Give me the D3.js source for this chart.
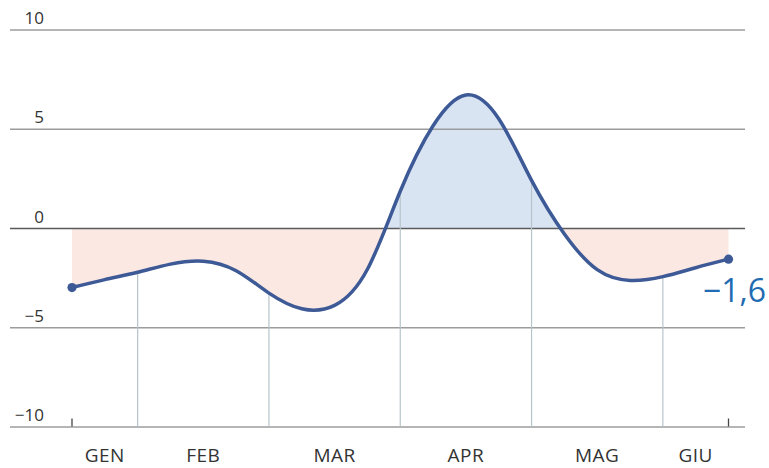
<!DOCTYPE html>
<html>
<head>
<meta charset="utf-8">
<script src="https://cdn.jsdelivr.net/npm/d3@7"></script>
<style>
  html, body { margin: 0; padding: 0; background: #fff; }
  svg { display: block; font-family: "Open Sans", sans-serif; }
</style>
</head>
<body>
<svg id="chart" width="769" height="468"></svg>
<script>
// ---- data ----
const months = ["GEN", "FEB", "MAR", "APR", "MAG", "GIU"];
// time in months (0 = 1 Jan), quarter-month steps, from mid-Jan to mid-Jun
const times = [0.5, 0.75, 1.0, 1.25, 1.5, 1.75, 2.0, 2.25, 2.5, 2.75, 3.0,
               3.25, 3.5, 3.75, 4.0, 4.25, 4.5, 4.75, 5.0, 5.25, 5.5];
const values = [-3.0, -2.6, -2.23, -1.82, -1.67, -2.15, -3.28, -4.07, -3.9, -2.08, 1.85,
                5.15, 6.7, 5.5, 2.4, -0.3, -2.1, -2.64, -2.45, -2.0, -1.57];
const yTicks = [10, 5, 0, -5, -10];
const monthBoundaries = [1, 2, 3, 4, 5];

// ---- layout ----
const svg = d3.select("#chart");
const x = d3.scaleLinear().domain([0.5, 5.5]).range([72, 728.5]);
const y = d3.scaleLinear().domain([-10, 10]).range([426.5, 29.5]);
const gridX0 = 10, gridX1 = 745;

const data = times.map((t, i) => ({ t, v: values[i] }));
const curve = d3.curveNatural;

const fmt = v => (v < 0 ? "\u2212" : "") + d3.format(".1f")(Math.abs(v)).replace(".", ",");

// clip paths
const defs = svg.append("defs");
defs.append("clipPath").attr("id", "above")
  .append("rect").attr("x", 0).attr("y", 0).attr("width", 769).attr("height", y(0));
defs.append("clipPath").attr("id", "below")
  .append("rect").attr("x", 0).attr("y", y(0)).attr("width", 769).attr("height", 468 - y(0));

const area = d3.area().x(d => x(d.t)).y0(y(0)).y1(d => y(d.v)).curve(curve);
svg.append("path").datum(data).attr("d", area)
  .attr("fill", "#d9e4f3").attr("clip-path", "url(#above)");
svg.append("path").datum(data).attr("d", area)
  .attr("fill", "#fbe8e2").attr("clip-path", "url(#below)");

// gridlines
const yAxis = d3.axisLeft(y).tickValues(yTicks)
  .tickSize(-(gridX1 - gridX0)).tickFormat(d => d < 0 ? "\u2212" + Math.abs(d) : d);
const gy = svg.append("g").attr("transform", `translate(${gridX1},0)`).call(yAxis);
gy.select(".domain").remove();
gy.selectAll(".tick line")
  .attr("x1", 0).attr("x2", -(gridX1 - gridX0))
  .attr("stroke", d => d === 0 ? "#5a5a5a" : "#9c9c9c")
  .attr("stroke-width", 1.3);
gy.selectAll(".tick text")
  .attr("x", -(gridX1 - 44)).attr("dy", -6).attr("y", 0)
  .attr("text-anchor", "end")
  .attr("font-size", 17).attr("fill", "#333")
  .attr("font-family", "Open Sans, sans-serif");

// month boundary verticals (from curve to bottom)
const lineGen = d3.line().x(d => x(d.t)).y(d => y(d.v)).curve(curve);
svg.selectAll(".vline").data(monthBoundaries).join("line")
  .attr("class", "vline")
  .attr("x1", d => x(d)).attr("x2", d => x(d))
  .attr("y1", d => y(values[times.indexOf(d)]))
  .attr("y2", y(-10))
  .attr("stroke", "#b7c4cb").attr("stroke-width", 1.2);

// end ticks at bottom
svg.selectAll(".etick").data([times[0], times[times.length - 1]]).join("line")
  .attr("class", "etick")
  .attr("x1", d => x(d)).attr("x2", d => x(d))
  .attr("y1", y(-10) - 8).attr("y2", y(-10))
  .attr("stroke", "#444").attr("stroke-width", 1.3);

// curve
svg.append("path").datum(data).attr("d", lineGen)
  .attr("fill", "none").attr("stroke", "#3d5a97").attr("stroke-width", 3.5)
  .attr("stroke-linejoin", "round").attr("stroke-linecap", "round");

// end dots
svg.selectAll(".dot").data([data[0], data[data.length - 1]]).join("circle")
  .attr("class", "dot")
  .attr("cx", d => x(d.t)).attr("cy", d => y(d.v)).attr("r", 4.6)
  .attr("fill", "#3d5a97");

// last value label
const last = data[data.length - 1];
svg.append("text")
  .attr("x", 766).attr("y", 302)
  .attr("text-anchor", "end")
  .attr("font-size", 32).attr("fill", "#1f6cb3")
  .text(fmt(last.v));

// month labels
const labelPos = months.map((m, i) => {
  const a = Math.max(i, 0.5), b = Math.min(i + 1, 5.5);
  return { m, t: (a + b) / 2 };
});
svg.selectAll(".mlab").data(labelPos).join("text")
  .attr("class", "mlab")
  .attr("x", d => x(d.t)).attr("y", 462)
  .attr("text-anchor", "middle")
  .attr("font-size", 19).attr("letter-spacing", 0.5).attr("fill", "#333")
  .text(d => d.m);
</script>
</body>
</html>
